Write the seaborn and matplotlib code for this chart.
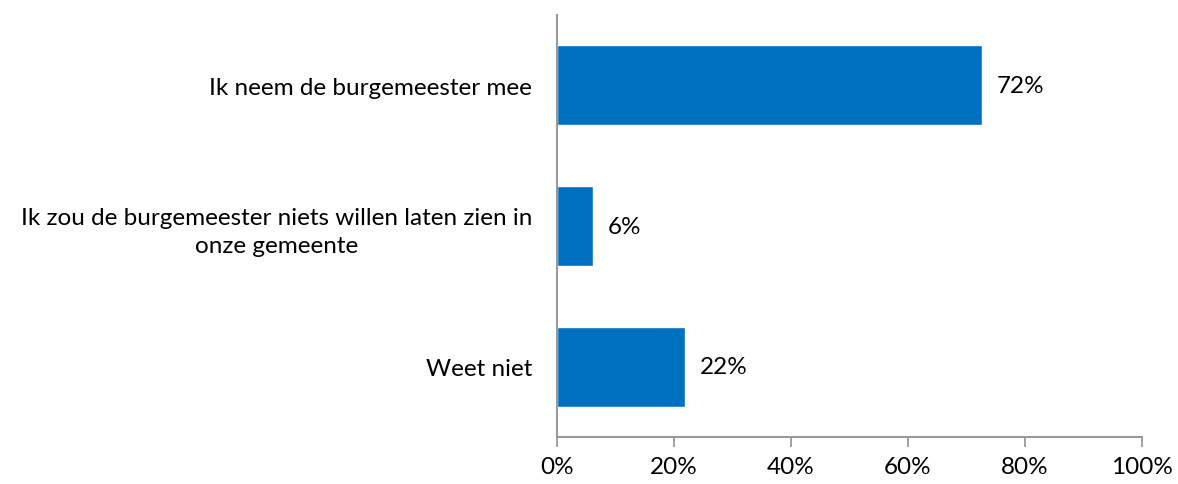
import matplotlib
matplotlib.use("Agg")
import matplotlib.pyplot as plt
import seaborn as sns
import pandas as pd
from matplotlib.ticker import FixedLocator

categories = ["Ik neem de burgemeester mee",
              "Ik zou de burgemeester niets willen laten zien in\nonze gemeente",
              "Weet niet"]
values = [72.6, 6.2, 21.9]
value_labels = ["72%", "6%", "22%"]
x_ticks = [0, 20, 40, 60, 80, 100]
x_tick_labels = ["0%", "20%", "40%", "60%", "80%", "100%"]

sns.set_style("white")
plt.rcParams['font.family'] = ['Lato', 'DejaVu Sans']

FS = 17.5

df = pd.DataFrame({"cat": categories, "val": values})

fig = plt.figure(figsize=(11.78, 4.85), dpi=100)
ax = fig.add_axes([557/1178, 1-438/485, 585/1178, 422/485])

sns.barplot(data=df, y="cat", x="val", orient="h", color="#0070C0",
            saturation=1, width=0.567, ax=ax)

ax.set_xlim(0, 100)
ax.set_ylim(2.5, -0.5)
ax.set_xlabel("")
ax.set_ylabel("")
ax.xaxis.set_major_locator(FixedLocator(x_ticks))
ax.set_xticklabels(x_tick_labels, fontsize=FS)
ax.set_yticks(range(len(categories)))
ax.set_yticklabels(categories, fontsize=FS, ha="right", multialignment="center",
                   linespacing=1.4)

for s in ["top", "right"]:
    ax.spines[s].set_visible(False)
for s in ["left", "bottom"]:
    ax.spines[s].set_color("#999999")
    ax.spines[s].set_linewidth(1.5)

ax.tick_params(axis="x", which="major", direction="out", length=7, width=1.3,
               color="#999999", pad=7, labelcolor="black", bottom=True)
ax.tick_params(axis="y", length=0, pad=18, labelcolor="black")

for i, (v, t) in enumerate(zip(values, value_labels)):
    ax.text(v + 2.5, i, t, va="center", ha="left", fontsize=FS, color="black")

fig.savefig("out.png", dpi=100)
